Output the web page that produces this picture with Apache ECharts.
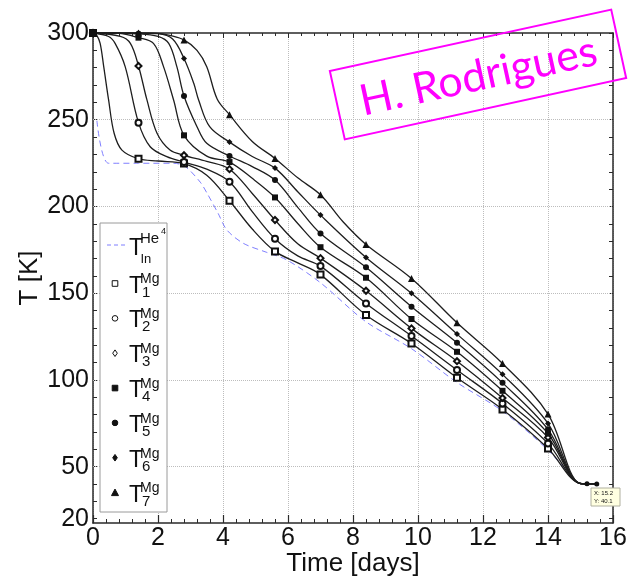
<!DOCTYPE html>
<html>
<head>
<meta charset="utf-8">
<script src="https://cdn.jsdelivr.net/npm/echarts@6/dist/echarts.min.js"></script>
<style>html,body{margin:0;padding:0;background:#fff}#c{width:628px;height:582px}</style>
</head>
<body>
<div id="c"></div>
<script>
// ---- data (time in days, temperature in K) ----
const markerTimes = [0, 1.4, 2.8, 4.2, 5.6, 7.0, 8.4, 9.8, 11.2, 12.6, 14.0];
const endMarkerTimes = [15.2, 15.5];

const tHe = [0.12, 0.48, 1.4, 2.48, 2.84, 3.3, 3.51, 3.85, 4.12, 4.63, 5.35, 5.97, 7.0, 8.4, 9.8, 11.2, 12.6, 14.0, 14.9];
const vHe = [249.4, 224.9, 224.9, 224.9, 223, 214, 207.6, 196, 186.4, 178.7, 173.5, 169.1, 156, 133.5, 118, 98.5, 82, 59.5, 40.5];

const t1 = [0, 0.12, 0.22, 0.33, 0.48, 0.65, 0.89, 1.4, 2.0, 2.8, 3.5, 4.2, 4.9, 5.6, 6.3, 7.0, 8.4, 9.8, 11.2, 12.6, 14.0, 14.95, 15.2, 15.5];
const v1 = [300, 298.5, 294, 280.6, 261.4, 242.2, 232.5, 227.5, 226.2, 224.7, 218, 203.3, 187, 174.1, 167.5, 160.7, 137.4, 121.0, 101.2, 83.0, 60.5, 40.5, 40.1, 40.0];

const t2 = [0, 0.48, 0.68, 0.99, 1.4, 1.76, 2.27, 2.8, 3.5, 4.2, 4.9, 5.6, 6.3, 7.0, 8.4, 9.8, 11.2, 12.6, 14.0, 14.95, 15.2, 15.5];
const v2 = [300, 298, 294, 280.6, 248.3, 234.4, 228.7, 225.6, 221.5, 214.2, 197, 181.4, 171.5, 165.6, 144.1, 125.3, 105.7, 86.4, 63.4, 40.5, 40.1, 40.0];

const t3 = [0, 0.84, 1.15, 1.4, 1.66, 1.97, 2.37, 2.8, 3.5, 4.2, 4.9, 5.6, 6.3, 7.0, 8.4, 9.8, 11.2, 12.6, 14.0, 14.95, 15.2, 15.5];
const v3 = [300, 298, 294, 281, 261.4, 242.2, 232.5, 229.5, 226, 221.5, 207.5, 192.2, 178.5, 170.2, 151.4, 129.7, 110.8, 89.6, 66.8, 40.5, 40.1, 40.0];

const t4 = [0, 0.8, 1.4, 1.86, 2.17, 2.48, 2.8, 3.5, 4.2, 4.9, 5.6, 6.3, 7.0, 8.4, 9.8, 11.2, 12.6, 14.0, 14.95, 15.2, 15.5];
const v4 = [300, 299.8, 297.3, 294, 280.6, 261.4, 241.0, 229, 225.6, 216.2, 205.2, 190.2, 176.5, 158.9, 135.1, 116.2, 93.7, 69.1, 40.5, 40.1, 40.0];

const t5 = [0, 1.4, 2.0, 2.33, 2.58, 2.8, 3.2, 3.5, 4.2, 4.9, 5.6, 6.3, 7.0, 8.4, 9.8, 11.2, 12.6, 14.0, 14.95, 15.2, 15.5];
const v5 = [300, 299.5, 298, 294, 280.6, 263.7, 246, 236.4, 229.1, 223, 215.2, 199.5, 184.4, 164.9, 142.2, 121.4, 98.3, 71.5, 40.5, 40.1, 40.0];

const t6 = [0, 1.4, 2.0, 2.45, 2.8, 3.1, 3.25, 3.59, 4.2, 4.9, 5.6, 6.3, 7.0, 8.4, 9.8, 11.2, 12.6, 14.0, 14.95, 15.2, 15.5];
const v6 = [300, 300, 299.6, 296.5, 285.3, 271, 261.4, 246, 237.1, 228.8, 222.1, 208.5, 195.0, 170.6, 149.9, 126.4, 103.2, 74.9, 40.5, 40.1, 40.0];

const t7 = [0, 1.4, 2.0, 2.4, 2.8, 3.2, 3.5, 3.82, 4.2, 4.9, 5.6, 6.3, 7.0, 7.7, 8.4, 9.8, 11.2, 12.6, 14.0, 14.95, 15.2, 15.5];
const v7 = [300, 300, 299.8, 298.5, 296, 290, 280.6, 262, 252.9, 237.5, 227.7, 216.5, 206.7, 191, 178.1, 158.5, 132.9, 109.5, 80.3, 40.5, 40.1, 40.0];

const mgSymbols = ['emptyRect', 'emptyCircle', 'emptyDiamond', 'rect', 'circle', 'diamond', 'triangle'];
const mgSub = ['1', '2', '3', '4', '5', '6', '7'];
const heLabel = {main: 'T', sup: 'He', supsup: '4', sub: 'In'};

const xTicks = [0, 2, 4, 6, 8, 10, 12, 14, 16];
const yLabelVals = [20, 50, 100, 150, 200, 250, 300];
const yTickVals = [20, 30, 40, 50, 60, 70, 80, 90, 100, 110, 120, 130, 140, 150, 160, 170, 180, 190, 200, 210, 220, 230, 240, 250, 260, 270, 280, 290, 300];
const yGridVals = [50, 100, 150, 200, 250];
const datatip = ['X: 15.2', 'Y: 40.1'];

// ---- chart ----
const FONT = '"Liberation Sans", Arial, sans-serif';
const chart = echarts.init(document.getElementById('c'), null, {renderer: 'canvas'});

function mkData(ts, vs, withEnd) {
  return ts.map((t, i) => {
    if (markerTimes.includes(t)) return [t, vs[i]];
    if (withEnd && endMarkerTimes.includes(t)) return {value: [t, vs[i]], symbol: 'circle', symbolSize: 5};
    return {value: [t, vs[i]], symbol: 'none'};
  });
}
const tArr = [t1, t2, t3, t4, t5, t6, t7];
const vArr = [v1, v2, v3, v4, v5, v6, v7];

const series = [];
series.push({
  name: 'He', type: 'line', data: tHe.map((t, i) => [t, vHe[i]]),
  smooth: 0.3, showSymbol: false, symbol: 'none', z: 2,
  lineStyle: {color: '#7f7fff', width: 1, type: [6, 4]},
  markLine: {
    silent: true, symbol: ['none', 'none'], z: 1, animation: false,
    label: {show: false},
    lineStyle: {type: 'dotted', color: '#bdbdbd', width: 1},
    data: yGridVals.map(v => ({yAxis: v}))
  }
});
for (let k = 0; k < 7; k++) {
  series.push({
    name: 'Mg' + mgSub[k], type: 'line', data: mkData(tArr[k], vArr[k], k === 4),
    smooth: 0.35, symbol: mgSymbols[k], symbolSize: k === 6 ? 7 : 6, z: 3,
    lineStyle: {color: '#1e1e1e', width: 1.3},
    itemStyle: {color: '#111', borderWidth: 1}
  });
}

// legend built as graphic
const LX0 = 100, LY0 = 223, LW = 67, LH = 289;
const g = [];
g.push({type: 'rect', shape: {x: LX0, y: LY0, width: LW, height: LH}, style: {fill: '#fff', stroke: '#9a9a9a', lineWidth: 1}, z: 50});
function txt(s, x, y, size, extra) {
  return Object.assign({type: 'text', z: 51, style: {text: s, x: x, y: y, font: size + 'px ' + FONT, fill: '#111', align: 'left', verticalAlign: 'middle', textAlign: 'left', textVerticalAlign: 'middle'}}, extra || {});
}
// He entry
const heY = 245;
g.push({type: 'line', z: 51, shape: {x1: 107, y1: heY, x2: 127, y2: heY}, style: {stroke: '#7f7fff', lineWidth: 1, lineDash: [4, 3]}});
g.push(txt(heLabel.main, 129, heY + 4, 23));
g.push(txt(heLabel.sup, 140, heY - 6.5, 15));
g.push(txt(heLabel.supsup, 161, heY - 13, 9));
g.push(txt(heLabel.sub, 140.5, heY + 14, 13));
// Mg entries
for (let k = 0; k < 7; k++) {
  const y = 283.5 + 34.85 * k, x = 115, s = 2.8;
  const sym = mgSymbols[k];
  const filled = !sym.startsWith('empty');
  const st = {fill: filled ? '#111' : '#fff', stroke: '#111', lineWidth: 1};
  let shp;
  if (sym.toLowerCase().endsWith('rect')) shp = {type: 'rect', shape: {x: x - s, y: y - s, width: 2 * s, height: 2 * s}, style: st};
  else if (sym.toLowerCase().endsWith('circle')) shp = {type: 'circle', shape: {cx: x, cy: y, r: s}, style: st};
  else if (sym.toLowerCase().endsWith('diamond')) shp = {type: 'polygon', shape: {points: [[x, y - s - 0.5], [x + s - 0.5, y], [x, y + s + 0.5], [x - s + 0.5, y]]}, style: st};
  else shp = {type: 'polygon', shape: {points: [[x, y - 3.5], [x + 3.5, y + 3], [x - 3.5, y + 3]]}, style: st};
  shp.z = 51;
  g.push(shp);
  g.push(txt('T', 129, y + 2.7, 23));
  g.push(txt('Mg', 140, y - 4, 14));
  g.push(txt(mgSub[k], 142, y + 9, 15));
}
// datatip box
g.push({type: 'rect', z: 40, shape: {x: 591, y: 488, width: 29, height: 18}, style: {fill: '#ffffe1', stroke: '#b0b0a0', lineWidth: 1}});
g.push(txt(datatip[0], 594, 493, 6, {z: 41}));
g.push(txt(datatip[1], 594, 501, 6, {z: 41}));
// watermark
g.push({
  type: 'group', x: 478, y: 74.5, rotation: 0.215, z: 60,
  children: [
    {type: 'rect', z: 60, shape: {x: -144, y: -35, width: 288, height: 70}, style: {fill: 'rgba(255,255,255,0)', stroke: '#ff00ff', lineWidth: 2}},
    {type: 'text', z: 61, style: {text: 'H. Rodrigues', x: 0, y: 2, font: '43px Lato, "Open Sans", sans-serif', fill: '#ff00ff', align: 'center', verticalAlign: 'middle', textAlign: 'center', textVerticalAlign: 'middle'}}
  ]
});

const axisLineStyle = {color: '#2a2a2a', width: 1.5};
const option = {
  animation: false,
  backgroundColor: '#fff',
  textStyle: {fontFamily: FONT},
  grid: {left: 93, right: 15, top: 33, bottom: 59, containLabel: false, outerBoundsMode: 'none'},
  xAxis: [
    {
      type: 'value', min: xTicks[0], max: xTicks[xTicks.length - 1], interval: 2, position: 'bottom',
      axisLine: {show: true, onZero: false, lineStyle: axisLineStyle},
      axisTick: {show: true, inside: true, length: 8, lineStyle: {color: '#2a2a2a', width: 1.2}},
      minorTick: {show: true, splitNumber: 5, length: 4, lineStyle: {color: '#2a2a2a', width: 1}},
      axisLabel: {fontSize: 25, color: '#111', margin: 3, fontFamily: FONT},
      splitLine: {show: true, lineStyle: {type: 'dotted', color: '#bdbdbd', width: 1}},
      name: 'Time [days]', nameLocation: 'middle', nameGap: 28, nameMoveOverlap: false,
      nameTextStyle: {fontSize: 26, color: '#111', fontFamily: FONT}
    },
    {
      type: 'value', min: xTicks[0], max: xTicks[xTicks.length - 1], interval: 2, position: 'top',
      axisLine: {show: true, onZero: false, lineStyle: axisLineStyle},
      axisTick: {show: true, inside: true, length: 5, lineStyle: {color: '#2a2a2a'}},
      minorTick: {show: true, splitNumber: 5, length: 3, lineStyle: {color: '#2a2a2a'}},
      axisLabel: {show: false}, splitLine: {show: false}
    }
  ],
  yAxis: [
    {
      type: 'value', min: 17.5, max: 300, position: 'left',
      axisLine: {show: true, onZero: false, lineStyle: axisLineStyle},
      axisTick: {show: true, inside: true, length: 4, customValues: yTickVals, lineStyle: {color: '#2a2a2a'}},
      axisLabel: {customValues: yLabelVals, fontSize: 25, color: '#111', margin: 4, fontFamily: FONT,
        formatter: v => yLabelVals.includes(v) ? String(v) : ''},
      splitLine: {show: false},
      name: 'T [K]', nameLocation: 'middle', nameGap: 50, nameMoveOverlap: false,
      nameTextStyle: {fontSize: 26, color: '#111', fontFamily: FONT}
    },
    {
      type: 'value', min: 17.5, max: 300, position: 'right',
      axisLine: {show: true, onZero: false, lineStyle: axisLineStyle},
      axisTick: {show: true, inside: true, length: 4, customValues: yTickVals, lineStyle: {color: '#2a2a2a'}},
      axisLabel: {show: false}, splitLine: {show: false}
    }
  ],
  series: series,
  graphic: {elements: g}
};
chart.setOption(option);
</script>
</body>
</html>
